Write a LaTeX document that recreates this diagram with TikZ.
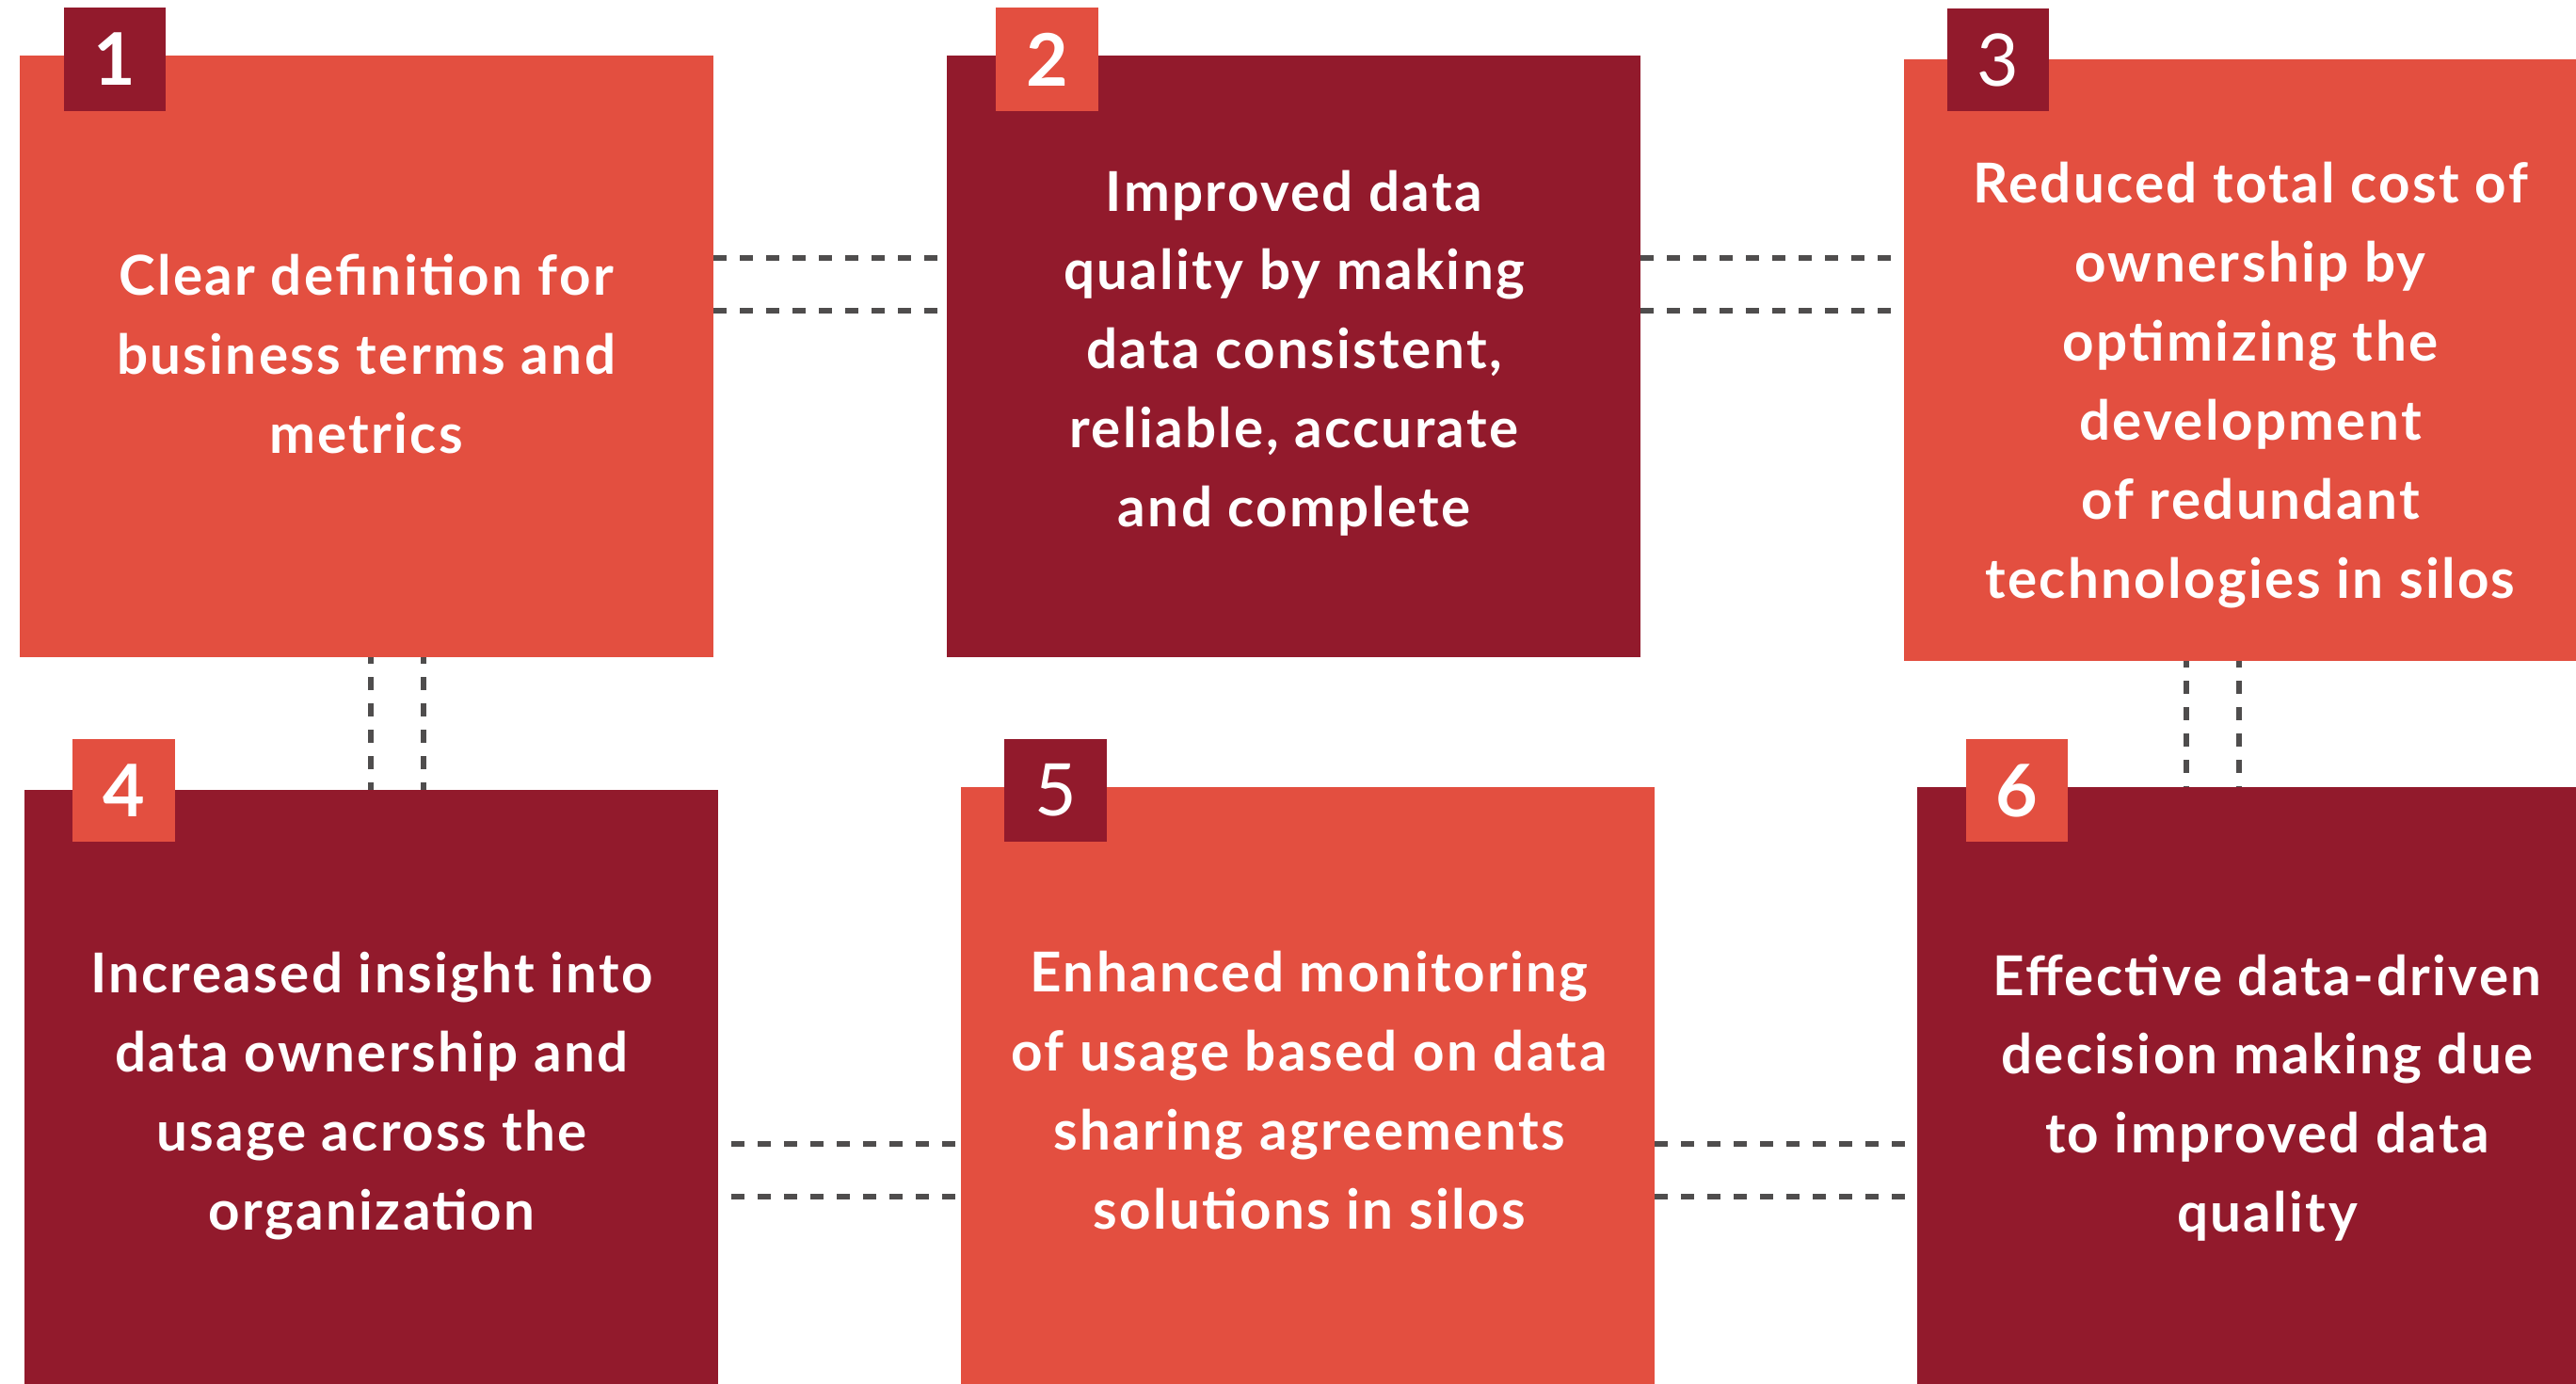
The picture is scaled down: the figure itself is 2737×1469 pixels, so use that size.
\documentclass[tikz,border=0pt]{standalone}
\usepackage{fontspec}
\setmainfont{Lato}
\newfontfamily\txtfont{Lato}[LetterSpace=4]
\definecolor{lred}{HTML}{E34F40}
\definecolor{dred}{HTML}{921A2C}
\definecolor{dashc}{HTML}{4F4D4D}
\begin{document}
\begin{tikzpicture}[x=0.01cm,y=-0.01cm,
  box/.style={minimum width=7.37cm, minimum height=6.39cm, inner sep=0pt, outer sep=0pt},
  badge/.style={minimum width=1.08cm, minimum height=1.09cm, inner sep=0pt, outer sep=0pt, text=white, font=\fontsize{21.9}{22}\selectfont\bfseries},
  thindigit/.style={font=\fontsize{21.9}{22}\selectfont},
  txt/.style={text=white, align=center, font=\txtfont\fontsize{16.6}{23.84}\selectfont\bfseries, inner sep=0pt},
  conn/.style={draw=dashc, line width=1.56pt, dash pattern=on 3.98pt off 3.98pt}]
\useasboundingbox (0,0) rectangle (2737,1469);
\clip (0,0) rectangle (2737,1469);
% boxes
\node[box, fill=lred] (b1) at (389.5,378.5) {};
\node[box, fill=dred] (b2) at (1374.5,378.5) {};
\node[box, fill=lred] (b3) at (2391.5,382.5) {};
\node[box, fill=dred] (b4) at (394.5,1158.5) {};
\node[box, fill=lred] (b5) at (1389.5,1155.5) {};
\node[box, fill=dred] (b6) at (2405.5,1155.5) {};
% connectors
\draw[conn] (b1.east |- 0,274) -- (b2.west |- 0,274);
\draw[conn] (b1.east |- 0,330) -- (b2.west |- 0,330);
\draw[conn] (b2.east |- 0,274) -- (b3.west |- 0,274);
\draw[conn] (b2.east |- 0,330) -- (b3.west |- 0,330);
\draw[conn, dash phase=3.98pt] (b4.east |- 0,1215) -- (b5.west |- 0,1215);
\draw[conn, dash phase=3.98pt] (b4.east |- 0,1271) -- (b5.west |- 0,1271);
\draw[conn] (b5.east |- 0,1215) -- (b6.west |- 0,1215);
\draw[conn] (b5.east |- 0,1271) -- (b6.west |- 0,1271);
\draw[conn, dash phase=2pt] (b1.south -| 394,0) -- (b4.north -| 394,0);
\draw[conn, dash phase=2pt] (b1.south -| 450,0) -- (b4.north -| 450,0);
\draw[conn, dash phase=2pt] (b3.south -| 2323,0) -- (b6.north -| 2323,0);
\draw[conn, dash phase=2pt] (b3.south -| 2379,0) -- (b6.north -| 2379,0);
% badges
\node[badge, fill=dred] (n1) at (122,63) {1};
\node[badge, fill=lred] (n2) at (1112.5,63) {2};
\node[badge, fill=dred, thindigit] (n3) at (2122.5,63.5) {3};
\node[badge, fill=lred] (n4) at (131.5,839.5) {4};
\node[badge, fill=dred, thindigit] (n5) at (1121.5,839.5) {5};
\node[badge, fill=lred] (n6) at (2142.5,839.5) {6};
% texts
\node[txt] (t1) at (389,376) {Clear definition for\\business terms and\\metrics};
\node[txt] (t2) at (1375,375) {Improved data\\quality by making\\data consistent,\\reliable, accurate\\and complete};
\node[txt] (t3) at (2391,409) {Reduced total cost of\\ownership by\\optimizing the\\development\\of redundant\\technologies in silos};
\node[txt] (t4) at (395,1164) {Increased insight into\\data ownership and\\usage across the\\organization};
\node[txt] (t5) at (1391,1158) {Enhanced monitoring\\of usage based on data\\sharing agreements\\solutions in silos};
\node[txt] (t6) at (2409,1166) {Effective data-driven\\decision making due\\to improved data\\quality};
\end{tikzpicture}
\end{document}
